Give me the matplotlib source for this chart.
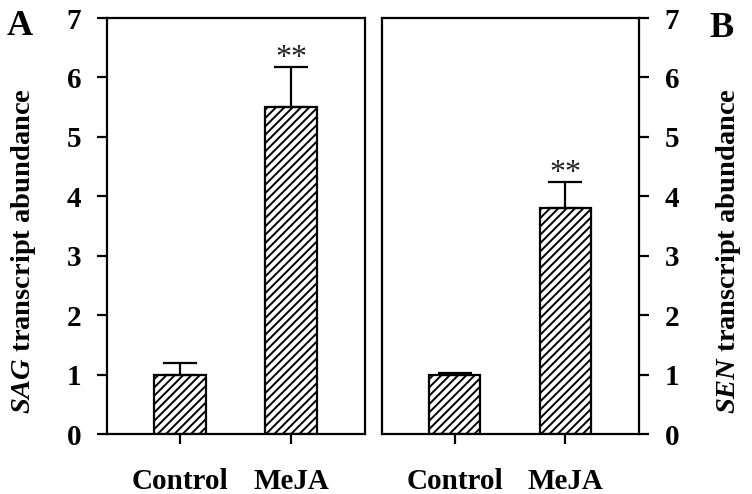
import matplotlib.pyplot as plt
import numpy as np

plt.rcParams['font.family'] = ['Liberation Serif', 'DejaVu Serif']
plt.rcParams['font.weight'] = 'bold'
plt.rcParams['hatch.linewidth'] = 1.4
plt.rcParams['mathtext.fontset'] = 'custom'
plt.rcParams['mathtext.it'] = 'Liberation Serif:italic:bold'
plt.rcParams['mathtext.rm'] = 'Liberation Serif:bold'

# Data
groups = ['Control', 'MeJA']
sag_mean = [1.0, 5.5]
sag_err = [0.19, 0.68]
sen_mean = [1.0, 3.8]
sen_err = [0.02, 0.44]
marks = ['', '**']

fig = plt.figure(figsize=(7.52, 4.94), dpi=100)
axA = fig.add_axes([107/752, 1-434/494, 258/752, 416/494])
axB = fig.add_axes([382/752, 1-434/494, 257/752, 416/494])

x = np.array([1, 2])

def draw(ax, means, errs, side):
    ax.bar(x, means, width=0.46, color='white', edgecolor='black',
           linewidth=1.6, hatch='////', zorder=2)
    ax.errorbar(x, means, yerr=[np.zeros(len(errs)), errs], fmt='none',
                ecolor='black', elinewidth=1.6, capsize=12, capthick=1.6, zorder=3)
    for xi, m, e, s in zip(x, means, errs, marks):
        if s:
            ax.text(xi, m + e + 0.02, s, ha='center', va='baseline',
                    fontsize=23, fontweight='normal', color='#222222')
    ax.set_xlim(0.342, 2.667)
    ax.set_ylim(0, 7)
    ax.set_yticks(range(8))
    ax.set_xticks(x)
    ax.set_xticklabels(groups, fontsize=22, fontweight='bold')
    for sp in ax.spines.values():
        sp.set_linewidth(1.6)
    ax.tick_params(axis='both', direction='out', length=7.5, width=1.6,
                   labelsize=21)
    ax.tick_params(axis='y', pad=11)
    ax.tick_params(axis='x', pad=17)
    if side == 'right':
        ax.yaxis.tick_right()
        ax.yaxis.set_label_position('right')

draw(axA, sag_mean, sag_err, 'left')
draw(axB, sen_mean, sen_err, 'right')

axA.set_ylabel(r'$\mathit{SAG}$ transcript abundance', fontsize=20.5,
               fontweight='bold')
axB.set_ylabel(r'$\mathit{SEN}$ transcript abundance', fontsize=20.5,
               fontweight='bold')
axA.yaxis.set_label_coords(-0.268, 0.44)
axB.yaxis.set_label_coords(1.293, 0.44)

fig.text(7/752, 1-35/494, 'A', fontsize=26, fontweight='bold', va='baseline')
fig.text(709/752, 1-37/494, 'B', fontsize=26, fontweight='bold', va='baseline')

fig.savefig('out.png', dpi=100)
